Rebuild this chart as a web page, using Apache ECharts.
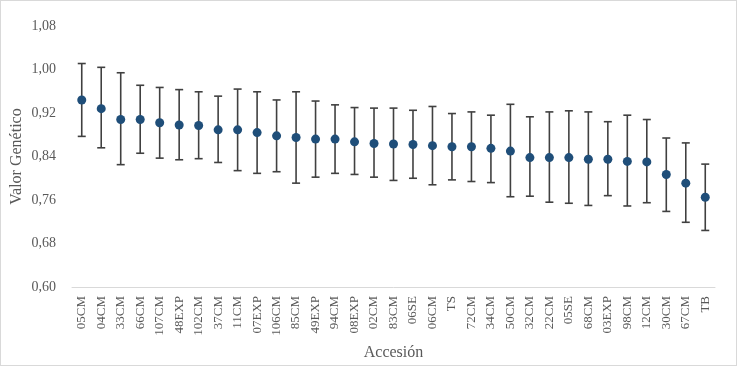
<!DOCTYPE html>
<html>
<head>
<meta charset="utf-8">
<script src="https://cdn.jsdelivr.net/npm/echarts@6/dist/echarts.min.js"></script>
<style>
  html, body { margin: 0; padding: 0; background: #fff; }
  #chart {
    width: 737px;
    height: 366px;
    box-sizing: border-box;
    border: 1px solid #d9d9d9;
  }
</style>
</head>
<body>
<div id="chart"></div>
<script>
  // accesiones y valores genéticos (media, límite superior, límite inferior)
  const accesiones = ['05CM','04CM','33CM','66CM','107CM','48EXP','102CM','37CM','11CM','07EXP',
    '106CM','85CM','49EXP','94CM','08EXP','02CM','83CM','06SE','06CM','TS','72CM','34CM',
    '50CM','32CM','22CM','05SE','68CM','03EXP','98CM','12CM','30CM','67CM','TB'];
  const media = [0.944,0.928,0.908,0.908,0.902,0.898,0.897,0.889,0.889,0.884,
    0.878,0.875,0.872,0.872,0.867,0.864,0.863,0.862,0.860,0.858,0.858,0.855,
    0.850,0.838,0.838,0.838,0.835,0.835,0.831,0.830,0.807,0.791,0.765];
  const superior = [1.011,1.004,0.994,0.971,0.967,0.963,0.959,0.951,0.964,0.959,
    0.944,0.959,0.942,0.935,0.930,0.929,0.929,0.925,0.932,0.919,0.922,0.916,
    0.936,0.913,0.922,0.924,0.922,0.904,0.916,0.908,0.874,0.865,0.826];
  const inferior = [0.877,0.856,0.825,0.846,0.837,0.834,0.836,0.829,0.814,0.809,
    0.812,0.791,0.802,0.809,0.807,0.802,0.796,0.800,0.788,0.797,0.794,0.792,
    0.766,0.767,0.756,0.754,0.750,0.768,0.749,0.755,0.739,0.719,0.704];

  const chart = echarts.init(document.getElementById('chart'));
  const fuente = '"Liberation Serif", "Times New Roman", serif';

  const option = {
    animation: false,
    grid: { left: 71, right: 21, top: 25, bottom: 78, outerBoundsMode: 'none', containLabel: false },
    xAxis: {
      type: 'category',
      data: accesiones,
      name: 'Accesión',
      nameLocation: 'middle',
      nameGap: 58,
      nameMoveOverlap: false,
      nameTextStyle: { fontFamily: fuente, fontSize: 16, color: '#595959' },
      axisLine: { lineStyle: { color: '#d9d9d9', width: 1 } },
      axisTick: { show: false },
      axisLabel: {
        rotate: 90,
        interval: 0,
        margin: 9,
        fontFamily: fuente,
        fontSize: 13,
        color: '#595959'
      }
    },
    yAxis: {
      type: 'value',
      min: 0.60,
      max: 1.08,
      interval: 0.08,
      name: 'Valor Genético',
      nameLocation: 'middle',
      nameGap: 47,
      nameMoveOverlap: false,
      nameTextStyle: { fontFamily: fuente, fontSize: 16, color: '#595959' },
      axisLine: { show: false },
      axisTick: { show: false },
      splitLine: { show: false },
      axisLabel: {
        margin: 16,
        fontFamily: fuente,
        fontSize: 14,
        color: '#595959',
        formatter: v => v.toFixed(2).replace('.', ',')
      }
    },
    series: [
      {
        type: 'custom',
        data: accesiones.map((a, i) => [i, inferior[i], superior[i]]),
        renderItem: function (params, api) {
          const x = api.value(0);
          const lo = api.coord([x, api.value(1)]);
          const hi = api.coord([x, api.value(2)]);
          const cap = 4;
          const estilo = { stroke: '#404040', lineWidth: 1.6 };
          return {
            type: 'group',
            children: [
              { type: 'line', shape: { x1: hi[0], y1: hi[1], x2: lo[0], y2: lo[1] }, style: estilo },
              { type: 'line', shape: { x1: hi[0] - cap, y1: hi[1], x2: hi[0] + cap, y2: hi[1] }, style: estilo },
              { type: 'line', shape: { x1: lo[0] - cap, y1: lo[1], x2: lo[0] + cap, y2: lo[1] }, style: estilo }
            ]
          };
        },
        z: 1
      },
      {
        type: 'scatter',
        data: media,
        symbol: 'circle',
        symbolSize: 9,
        itemStyle: { color: '#1f4e79', opacity: 1 },
        z: 2
      }
    ]
  };
  chart.setOption(option);
</script>
</body>
</html>
